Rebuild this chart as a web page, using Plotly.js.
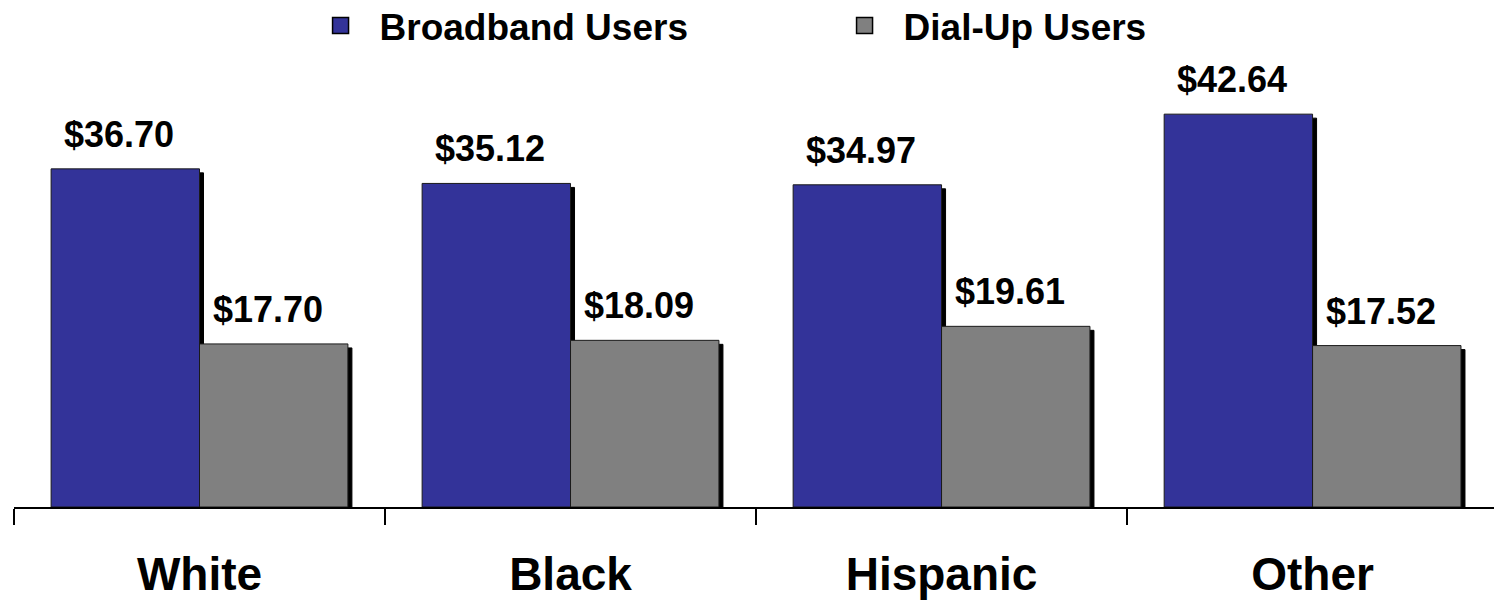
<!DOCTYPE html>
<html>
<head>
<meta charset="utf-8">
<script src="https://cdn.plot.ly/plotly-3.0.1.min.js"></script>
<style>
  html, body { margin: 0; padding: 0; background: #fff; }
  #chart { width: 1494px; height: 602px; }
  .barlayer .trace.bars path { filter: drop-shadow(4px 4px 0 #000); }
  .legendpoints path { d: path("M8,8H-8V-8H8Z"); stroke: #000 !important; stroke-width: 1.5px !important; }
  .legend .groups { transform: translate(0px, -5px); }
  .legend .legendtext { transform: translateX(19px); }
</style>
</head>
<body>
<div id="chart"></div>
<script>
const categories = ["White", "Black", "Hispanic", "Other"];
const broadbandValues = [36.70, 35.12, 34.97, 42.64];
const dialupValues = [17.70, 18.09, 19.61, 17.52];
const seriesNames = ["Broadband Users", "Dial-Up Users"];
const seriesColors = ["#333399", "#808080"];

const FONT = "Liberation Sans, Arial, Helvetica, sans-serif";
const fmt = v => "$" + v.toFixed(2);

const traces = [broadbandValues, dialupValues].map((vals, i) => ({
  type: "bar",
  name: seriesNames[i],
  x: categories,
  y: vals,
  marker: { color: seriesColors[i], line: { color: "#1a1a1a", width: 1 } },
  hoverinfo: "skip"
}));

const annotations = [];
[broadbandValues, dialupValues].forEach((vals, s) => {
  vals.forEach((v, i) => {
    annotations.push({
      x: i + (s === 0 ? -0.2 : 0.2),
      y: v,
      xref: "x", yref: "y",
      text: fmt(v),
      showarrow: false,
      xanchor: "center", yanchor: "bottom",
      xshift: -6, yshift: 12,
      font: { family: FONT, size: 36, color: "#000", weight: "bold" }
    });
  });
});

const layout = {
  width: 1494, height: 602,
  margin: { l: 14, r: 0, t: 60, b: 95 },
  paper_bgcolor: "#fff", plot_bgcolor: "#fff",
  barmode: "group", bargap: 0.2, bargroupgap: 0,
  showlegend: true,
  legend: {
    orientation: "h",
    xref: "container", yref: "container",
    x: 0.5653, xanchor: "center", y: 1.0, yanchor: "top",
    font: { family: FONT, size: 37, color: "#000", weight: "bold" },
    entrywidth: 479, itemclick: false, itemdoubleclick: false,
    traceorder: "normal"
  },
  xaxis: {
    type: "category",
    range: [-0.5, 3.489],
    showline: true, linecolor: "#000", linewidth: 2,
    ticks: "outside", tickson: "boundaries", ticklen: 16, tickwidth: 2, tickcolor: "#000",
    ticklabelstandoff: 26,
    tickfont: { family: FONT, size: 46, color: "#000", weight: "bold" },
    showgrid: false, zeroline: false, fixedrange: true
  },
  yaxis: {
    range: [0, 48.3],
    visible: false, showgrid: false, zeroline: false, fixedrange: true
  },
  annotations: annotations,
  font: { family: FONT }
};

Plotly.newPlot("chart", traces, layout, { displayModeBar: false, staticPlot: true });
</script>
</body>
</html>
